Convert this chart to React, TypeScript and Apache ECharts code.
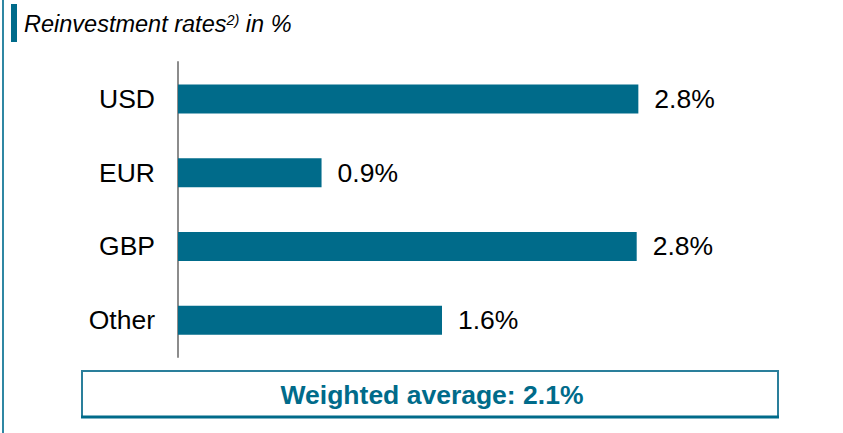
import React, { useEffect, useRef } from "react";
import * as echarts from "echarts";

const categories = ["USD", "EUR", "GBP", "Other"];
const rates = [2.79, 0.87, 2.78, 1.6];
const weightedAverage = "2.1%";
const titleMain = "Reinvestment rates";
const titleSup = "2)";
const titleTail = " in %";

const TEAL = "#006b8a";

export default function App() {
  const ref = useRef<HTMLDivElement>(null);
  useEffect(() => {
    if (!ref.current) return;
    const chart = echarts.init(ref.current, null, { renderer: "svg" });
    chart.setOption({
      animation: false,
      backgroundColor: "#ffffff",
      textStyle: { fontFamily: "Arial, 'Liberation Sans', sans-serif" },
      grid: { left: 178, right: 5, top: 62, bottom: 76, containLabel: false },
      xAxis: {
        type: "value",
        min: 0,
        max: 4,
        show: false,
      },
      yAxis: {
        type: "category",
        data: categories,
        inverse: true,
        axisLine: { show: true, lineStyle: { color: "#8c8c8c", width: 2 } },
        axisTick: { show: false },
        axisLabel: {
          color: "#000000",
          fontSize: 26.5,
          margin: 23,
          fontFamily: "Arial, 'Liberation Sans', sans-serif",
        },
      },
      series: [
        {
          type: "bar",
          data: rates,
          barWidth: 29,
          itemStyle: { color: TEAL },
          label: {
            show: true,
            position: "right",
            distance: 16,
            color: "#000000",
            fontSize: 26.5,
            fontFamily: "Arial, 'Liberation Sans', sans-serif",
            formatter: (p: any) => p.value.toFixed(1) + "%",
          },
        },
      ],
      graphic: [
        {
          type: "rect",
          shape: { x: 2, y: 0, width: 2, height: 433 },
          style: { fill: "#2f87a3" },
          silent: true,
        },
        {
          type: "rect",
          shape: { x: 11, y: 4, width: 6, height: 38 },
          style: { fill: TEAL },
          silent: true,
        },
        {
          type: "text",
          x: 24,
          y: 12,
          style: {
            text: `{m|${titleMain}}{s|${titleSup}}{m|${titleTail}}`,
            rich: {
              m: {
                fontSize: 23.5,
                fontStyle: "italic",
                fill: "#000000",
                fontFamily: "Arial, 'Liberation Sans', sans-serif",
              },
              s: {
                fontSize: 14.5,
                fontStyle: "italic",
                fill: "#000000",
                verticalAlign: "top",
                fontFamily: "Arial, 'Liberation Sans', sans-serif",
              },
            },
          },
        },
        {
          type: "rect",
          shape: { x: 82, y: 371, width: 696, height: 46 },
          style: { fill: "#ffffff", stroke: "#2a7f9b", lineWidth: 2 },
        },
        {
          type: "line",
          shape: { x1: 81, y1: 417, x2: 779, y2: 417 },
          style: { stroke: TEAL, lineWidth: 3 },
        },
        {
          type: "text",
          x: 432,
          y: 395,
          style: {
            text: "Weighted average: " + weightedAverage,
            fontSize: 26.5,
            fontWeight: "bold",
            fill: TEAL,
            align: "center",
            verticalAlign: "middle",
            fontFamily: "Arial, 'Liberation Sans', sans-serif",
          },
        },
      ],
    });
    return () => chart.dispose();
  }, []);
  return (
    <div
      ref={ref}
      style={{ position: "absolute", left: 0, top: 0, width: 843, height: 433 }}
    />
  );
}
